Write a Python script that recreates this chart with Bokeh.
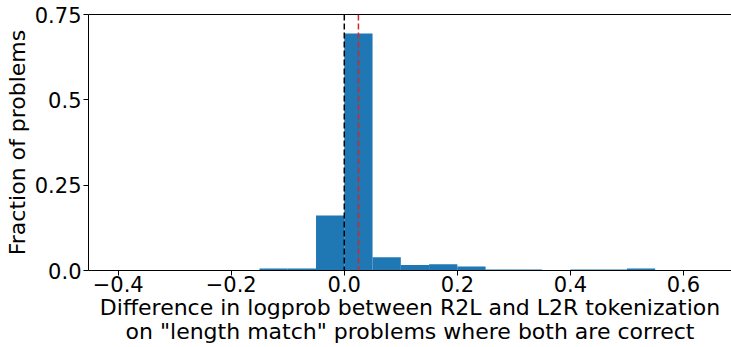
from bokeh.plotting import figure
from bokeh.models import Range1d, FixedTicker, Span, LinearAxis
from bokeh.embed import file_html
from bokeh.resources import INLINE

bin_edges = [-0.40, -0.35, -0.30, -0.25, -0.20, -0.15, -0.10, -0.05, 0.00, 0.05, 0.10,
             0.15, 0.20, 0.25, 0.30, 0.35, 0.40, 0.45, 0.50, 0.55, 0.60, 0.65]
fractions = [0.001, 0.001, 0.001, 0.001, 0.001, 0.006, 0.006, 0.161, 0.694, 0.039, 0.016,
             0.018, 0.012, 0.003, 0.003, 0.0, 0.003, 0.003, 0.006, 0.001, 0.001]
zero_line = 0.0
mean_line = 0.025
x_ticks = [-0.4, -0.2, 0.0, 0.2, 0.4, 0.6]
x_tick_labels = ["\u22120.4", "\u22120.2", "0.0", "0.2", "0.4", "0.6"]
y_ticks = [0.0, 0.25, 0.5, 0.75]
y_tick_labels = ["0.0", "0.25", "0.5", "0.75"]

FONT = "DejaVu Sans"

p = figure(width=731, height=347, output_backend="svg", toolbar_location=None,
           x_range=Range1d(-0.4525, 0.685), y_range=Range1d(0, 0.75),
           min_border_left=88, min_border_right=0, min_border_top=14, min_border_bottom=77)
p.outline_line_color = None
p.grid.visible = False
p.background_fill_color = "white"

p.quad(left=bin_edges[:-1], right=bin_edges[1:], top=fractions, bottom=0,
       fill_color="#1f77b4", line_color=None)

p.add_layout(Span(location=zero_line, dimension="height", line_color="black",
                  line_width=1.5, line_dash="6 3"))
p.add_layout(Span(location=mean_line, dimension="height", line_color="#d62728",
                  line_width=1.5, line_dash="6 3"))

for ax in (p.xaxis[0], p.yaxis[0]):
    ax.axis_line_color = "black"
    ax.axis_line_width = 1
    ax.major_tick_line_color = "black"
    ax.major_tick_out = 5
    ax.major_tick_in = 0
    ax.minor_tick_line_color = None
    ax.major_label_text_font = FONT
    ax.major_label_text_font_size = "21px"
    ax.major_label_text_color = "black"
    ax.axis_label_text_font = FONT
    ax.axis_label_text_font_size = "22px"
    ax.axis_label_text_font_style = "normal"
    ax.axis_label_text_color = "black"
    ax.axis_label_text_line_height = 0.98

p.xaxis[0].ticker = FixedTicker(ticks=x_ticks)
p.xaxis[0].major_label_overrides = dict(zip(x_ticks, x_tick_labels))
p.yaxis[0].ticker = FixedTicker(ticks=y_ticks)
p.yaxis[0].major_label_overrides = dict(zip(y_ticks, y_tick_labels))
p.xaxis[0].axis_label = ("Difference in logprob between R2L and L2R tokenization\n"
                         "on \"length match\" problems where both are correct")
p.xaxis[0].axis_label_standoff = 0
p.xaxis[0].major_label_standoff = 0
p.yaxis[0].axis_label = "Fraction of problems"
p.yaxis[0].axis_label_standoff = 2
p.yaxis[0].major_label_standoff = 2

top = LinearAxis(ticker=FixedTicker(ticks=[]), major_label_text_font_size="0px",
                 axis_line_color="black", axis_line_width=1,
                 major_tick_line_color=None, minor_tick_line_color=None)
p.add_layout(top, "above")

open("out.html", "w").write(file_html(p, INLINE))
